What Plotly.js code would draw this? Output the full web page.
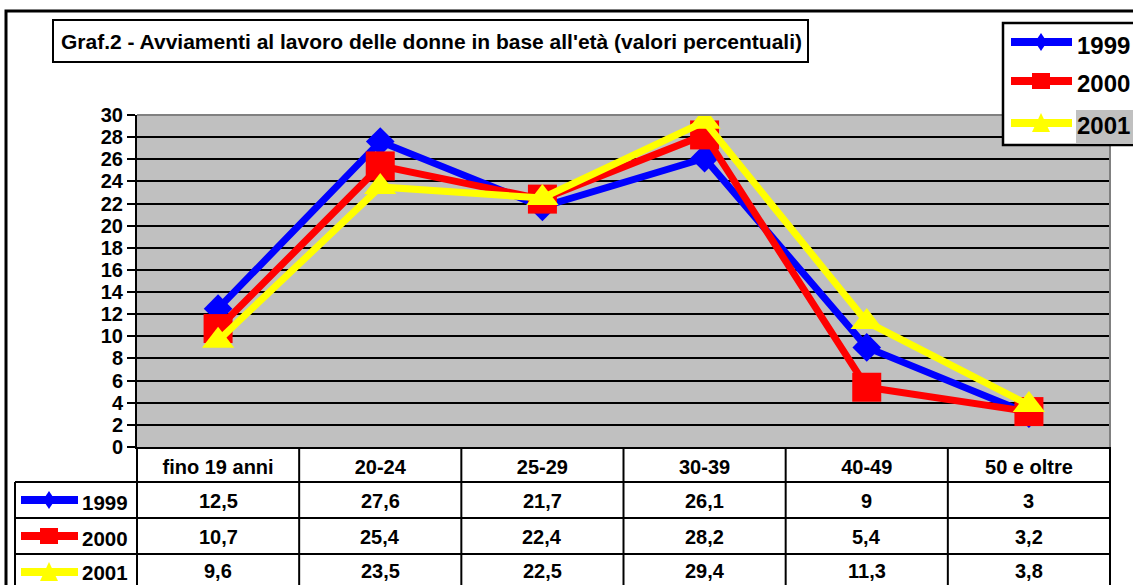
<!DOCTYPE html>
<html><head><meta charset="utf-8">
<script src="https://cdn.plot.ly/plotly-3.0.1.min.js"></script>
<style>html,body{margin:0;padding:0;background:#fff;overflow:hidden}</style>
</head><body><div id="chart" style="width:1133px;height:585px"></div>
<script>
// ---- data ----
const categories = ['fino 19 anni', '20-24', '25-29', '30-39', '40-49', '50 e oltre'];
const years = ['1999', '2000', '2001'];
const values1999 = [12.5, 27.6, 21.7, 26.1, 9, 3];
const values2000 = [10.7, 25.4, 22.4, 28.2, 5.4, 3.2];
const values2001 = [9.6, 23.5, 22.5, 29.4, 11.3, 3.8];
const titleText = "Graf.2 - Avviamenti al lavoro delle donne in base all'età (valori percentuali)";

// ---- styling ----
const series = [values1999, values2000, values2001];
const colors = ['#0000ff', '#ff0000', '#ffff00'];
const symbols = ['diamond', 'square', 'triangle-up'];
const sizes = [22, 29, 28];
const FONT = '"Liberation Sans", Arial, sans-serif';

const W = 1133, H = 585, L = 137, R = 1110, T = 115, B = 447;
const px = x => (x - L) / (R - L);
const py = y => (B - y) / (B - T);
const colW = (R - L) / categories.length;

const traces = series.map((vals, i) => ({
  type: 'scatter', mode: 'lines+markers', name: years[i],
  x: categories, y: vals,
  line: {color: colors[i], width: 7},
  marker: {color: colors[i], symbol: symbols[i], size: sizes[i], line: {width: 0}},
  showlegend: false, hoverinfo: 'skip'
}));

const shapes = [];
const annotations = [];
function line(x0, y0, x1, y1, color, width, layer) {
  shapes.push({type: 'line', xref: 'paper', yref: 'paper', x0: px(x0), y0: py(y0), x1: px(x1), y1: py(y1),
    line: {color: color, width: width}, layer: layer || 'above'});
}
function rect(x0, y0, x1, y1, lineColor, lineWidth, fill, layer) {
  shapes.push({type: 'rect', xref: 'paper', yref: 'paper', x0: px(x0), y0: py(y0), x1: px(x1), y1: py(y1),
    line: {color: lineColor, width: lineWidth}, fillcolor: fill, layer: layer || 'above'});
}
function path(pts, color) {
  const d = 'M' + pts.map(p => px(p[0]) + ',' + py(p[1])).join('L') + 'Z';
  shapes.push({type: 'path', xref: 'paper', yref: 'paper', path: d, fillcolor: color, line: {width: 0}, layer: 'above'});
}
function text(t, x, y, size, xanchor) {
  annotations.push({text: t, xref: 'paper', yref: 'paper', x: px(x), y: py(y), xanchor: xanchor || 'center', yanchor: 'middle',
    showarrow: false, borderpad: 0, font: {family: FONT, size: size, color: '#000', weight: 'bold'}});
}
function key(i, x0, x1, cy, cx) {
  line(x0, cy, x1, cy, colors[i], 8);
  if (i === 0) path([[cx - 6, cy], [cx, cy - 9], [cx + 6, cy], [cx, cy + 9]], colors[i]);
  else if (i === 1) path([[cx - 9, cy - 8], [cx + 9, cy - 8], [cx + 9, cy + 8], [cx - 9, cy + 8]], colors[i]);
  else path([[cx - 9, cy + 9], [cx, cy - 10], [cx + 9, cy + 9]], colors[i]);
}

// outer border
rect(6, 11, 1150, 600, '#000', 3, 'rgba(0,0,0,0)', 'below');
// title box
rect(53, 20, 808, 62, '#000', 2, '#ffffff');
text(titleText, 431, 42, 21);
// plot area border (grey)
line(L, T, R, T, '#808080', 2);
line(R, T, R, B, '#808080', 2);

// data table grid
const rowY = [482, 518, 554, 600];
const rowCenters = [501, 537, 571];
for (let k = 0; k < 3; k++) line(15, rowY[k], R, rowY[k], '#000', 2);
line(15, 482, 15, 600, '#000', 2);
for (let j = 0; j <= categories.length; j++) {
  const x = L + j * colW;
  line(x, B, x, 600, '#000', 2);
}
// table values and keys
series.forEach((vals, i) => {
  const cy = rowCenters[i];
  vals.forEach((v, j) => {
    text(String(v).replace('.', ','), L + (j + 0.5) * colW, cy, 20);
  });
  key(i, 21, 78, i === 2 ? 572 : cy - 1, 49);
  text(years[i], 81, cy + 1, 20.5, 'left');
});

// legend (top right)
rect(1003, 23, 1150, 145, '#000', 2.5, '#ffffff');
rect(1076, 110, 1150, 143, 'rgba(0,0,0,0)', 0, '#c0c0c0');
const legY = [42, 81, 123];
years.forEach((y, i) => {
  key(i, 1011, 1072, legY[i], 1041);
  text(y, 1076, legY[i] + 3, 24, 'left');
});

const layout = {
  width: W, height: H,
  margin: {l: L, r: W - R, t: T, b: H - B, pad: 0},
  paper_bgcolor: '#ffffff', plot_bgcolor: '#c0c0c0',
  font: {family: FONT, color: '#000', size: 20, weight: 'bold'},
  xaxis: {type: 'category', range: [-0.5, categories.length - 0.5], showgrid: false, zeroline: false,
    showline: true, linecolor: '#000', linewidth: 2, ticks: '', ticklabelstandoff: 1,
    tickfont: {family: FONT, size: 20, color: '#000', weight: 'bold'}, fixedrange: true},
  yaxis: {range: [0, 30], tick0: 0, dtick: 2, showgrid: true, gridcolor: '#000', gridwidth: 2, zeroline: false,
    showline: true, linecolor: '#000', linewidth: 2, ticks: 'outside', ticklen: 8, tickwidth: 2, tickcolor: '#000',
    tickfont: {family: FONT, size: 20, color: '#000', weight: 'bold'}, fixedrange: true},
  shapes: shapes, annotations: annotations, showlegend: false
};
Plotly.newPlot('chart', traces, layout, {displayModeBar: false, staticPlot: true});
</script>
</body></html>
